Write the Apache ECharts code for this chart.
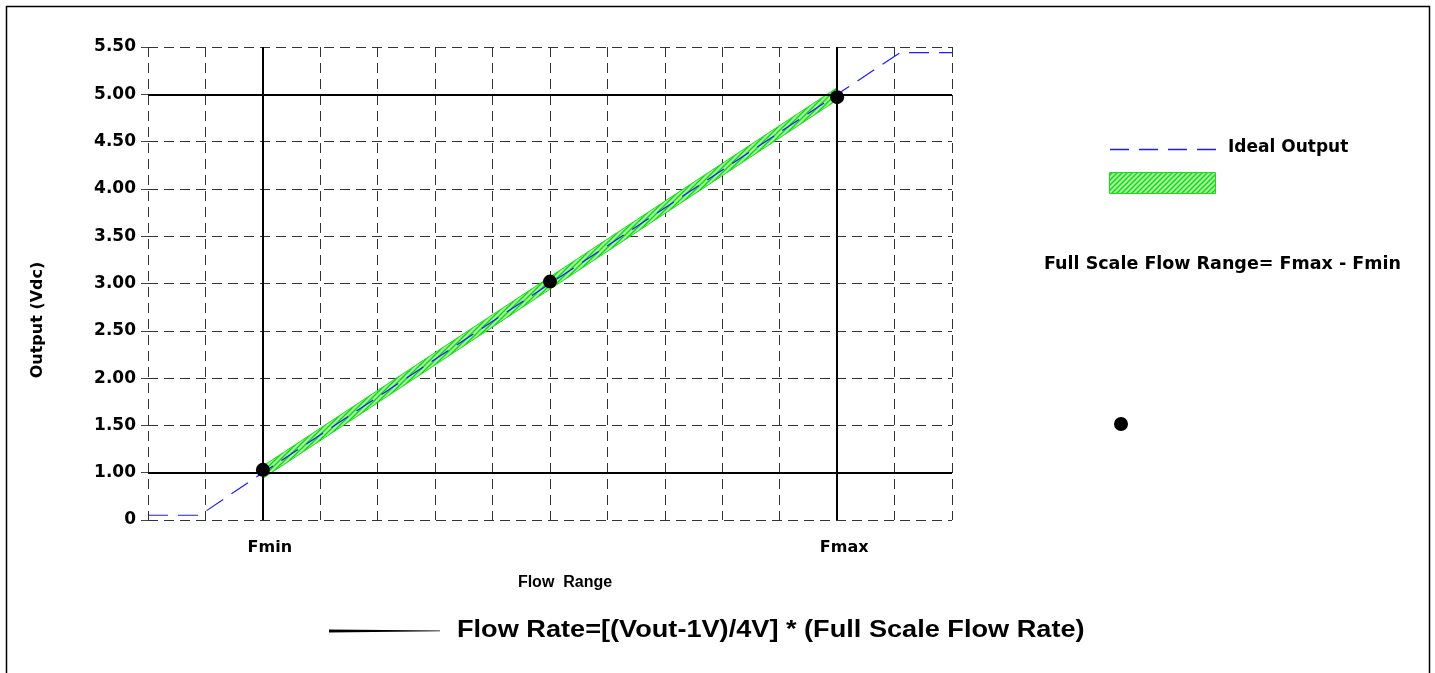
<!DOCTYPE html>
<html>
<head>
<meta charset="utf-8">
<script src="https://cdn.jsdelivr.net/npm/echarts@6/dist/echarts.min.js"></script>
<style>
  html, body { margin: 0; padding: 0; background: #fff; }
  #chart { width: 1435px; height: 673px; }
</style>
</head>
<body>
<div id="chart"></div>
<script>
// axis ticks (the bottom tick is labelled "0")
const yTickValues = [0.5, 1, 1.5, 2, 2.5, 3, 3.5, 4, 4.5, 5, 5.5];
const yTickLabels = ['0', '1.00', '1.50', '2.00', '2.50', '3.00', '3.50', '4.00', '4.50', '5.00', '5.50'];
const xLabelPos = [2, 12];
const xLabelText = ['Fmin', 'Fmax'];

// ideal output (dashed blue)
const idealX = [0, 0.9, 2, 7, 12, 13.1, 14];
const idealY = [0.55, 0.55, 1.0, 3.0, 5.0, 5.44, 5.44];

// tolerance band (hatched green)
const bandX = [2, 12];
const bandLow = [0.94, 4.94];
const bandHigh = [1.07, 5.07];

// black dots
const pointX = [2, 7, 12];
const pointY = [1.03, 3.02, 4.97];

// solid reference lines
const refX = [2, 12];
const refY = [1, 5];

// hatch pattern
function hatch() {
  const c = document.createElement('canvas');
  c.width = 5; c.height = 5;
  const ctx = c.getContext('2d');
  ctx.fillStyle = '#a6f7a0';
  ctx.fillRect(0, 0, 5, 5);
  ctx.strokeStyle = '#0fd60f';
  ctx.lineWidth = 1.4;
  ctx.beginPath();
  ctx.moveTo(-1, 6); ctx.lineTo(6, -1);
  ctx.moveTo(-1, 1); ctx.lineTo(1, -1);
  ctx.moveTo(4, 6); ctx.lineTo(6, 4);
  ctx.stroke();
  return { image: c, repeat: 'repeat' };
}

const zip = (xs, ys) => xs.map((x, i) => [x, ys[i]]);

const myChart = echarts.init(document.getElementById('chart'), null, { renderer: 'canvas' });
const gridDash = { color: '#333', width: 1, type: [10, 6] };
const bold = 'DejaVu Sans';
const bandFill = hatch();

myChart.setOption({
  animation: false,
  grid: { left: 148, right: 483, top: 47, bottom: 153 },
  xAxis: {
    type: 'value',
    min: 0, max: 14, interval: 1,
    axisLine: { show: false },
    axisTick: { show: false },
    splitLine: { show: true, lineStyle: gridDash },
    axisLabel: {
      margin: 20,
      padding: [0, 0, 0, 14],
      color: '#000',
      fontFamily: bold, fontWeight: 'bold', fontSize: 16,
      formatter: v => {
        const i = xLabelPos.indexOf(v);
        return i >= 0 ? xLabelText[i] : '';
      }
    }
  },
  yAxis: {
    type: 'value',
    min: 0.5, max: 5.5, interval: 0.5,
    axisLine: { show: false },
    axisTick: { show: true, length: 7, lineStyle: { color: '#444' } },
    splitLine: { show: true, lineStyle: gridDash },
    axisLabel: {
      margin: 12,
      color: '#000',
      fontFamily: bold, fontWeight: 'bold', fontSize: 17,
      formatter: v => {
        const i = yTickValues.findIndex(t => Math.abs(t - v) < 1e-6);
        return i >= 0 ? yTickLabels[i] : '';
      }
    }
  },
  series: [
    {
      name: 'ref', type: 'line', data: [], z: 1, silent: true,
      markLine: {
        silent: true, symbol: ['none', 'none'], label: { show: false },
        lineStyle: { color: '#000', width: 2, type: 'solid' },
        data: refX.map(x => ({ xAxis: x })).concat(refY.map(y => ({ yAxis: y })))
      }
    },
    {
      name: 'band', type: 'custom', z: 2, silent: true,
      data: bandX.map((x, i) => [x, bandLow[i], bandHigh[i]]),
      renderItem: (params, api) => {
        if (params.dataIndex !== 0) return null;
        const upper = bandX.map((x, i) => api.coord([x, bandHigh[i]]));
        const lower = bandX.map((x, i) => api.coord([x, bandLow[i]])).reverse();
        return {
          type: 'polygon',
          shape: { points: upper.concat(lower) },
          style: { fill: bandFill, stroke: '#15e015', lineWidth: 1 }
        };
      }
    },
    {
      name: 'Ideal Output', type: 'line', z: 3,
      data: zip(idealX, idealY), showSymbol: false,
      lineStyle: { color: '#1c1cf5', width: 1.2, type: [20, 10] }
    },
    {
      name: 'points', type: 'scatter', z: 4,
      data: zip(pointX, pointY),
      symbolSize: 14,
      itemStyle: { color: '#000', opacity: 1 }
    }
  ],
  graphic: [
    // outer frame
    { type: 'rect', shape: { x: 6.5, y: 6.5, width: 1423, height: 700 },
      style: { fill: 'none', stroke: '#000', lineWidth: 1.5 }, silent: true },
    // axis titles
    { type: 'text', x: 38, y: 320, rotation: Math.PI / 2,
      style: { text: 'Output (Vdc)', fontFamily: bold, fontWeight: 'bold', fontSize: 16,
               fill: '#000', align: 'center', verticalAlign: 'middle' } },
    { type: 'text', x: 565, y: 583,
      style: { text: 'Flow  Range', fontFamily: 'Liberation Sans', fontWeight: 'bold', fontSize: 16,
               fill: '#000', align: 'center', verticalAlign: 'middle' } },
    // legend
    { type: 'line', shape: { x1: 1110, y1: 149.5, x2: 1216, y2: 149.5 },
      style: { stroke: '#1c1cf5', lineWidth: 1.3, lineDash: [19, 10] } },
    { type: 'text', x: 1228, y: 148,
      style: { text: 'Ideal Output', fontFamily: bold, fontWeight: 'bold', fontSize: 17,
               fill: '#000', align: 'left', verticalAlign: 'middle' } },
    { type: 'rect', shape: { x: 1109.5, y: 172.5, width: 106, height: 21 },
      style: { fill: bandFill, stroke: '#15e015', lineWidth: 1 } },
    { type: 'text', x: 1044, y: 264,
      style: { text: 'Full Scale Flow Range= Fmax - Fmin', fontFamily: bold, fontWeight: 'bold', fontSize: 17.5,
               fill: '#000', align: 'left', verticalAlign: 'middle' } },
    { type: 'circle', shape: { cx: 1121, cy: 424, r: 7 }, style: { fill: '#000' } },
    // formula
    { type: 'polygon', shape: { points: [[329, 629.5], [440, 630.5], [440, 631.2], [329, 632.5]] },
      style: { fill: '#000' } },
    { type: 'text', x: 457, y: 631, scaleX: 1.18,
      style: { text: 'Flow Rate=[(Vout-1V)/4V] * (Full Scale Flow Rate)', fontFamily: 'Liberation Sans',
               fontWeight: 'bold', fontSize: 23, fill: '#000', align: 'left', verticalAlign: 'middle' } }
  ]
});
</script>
</body>
</html>
